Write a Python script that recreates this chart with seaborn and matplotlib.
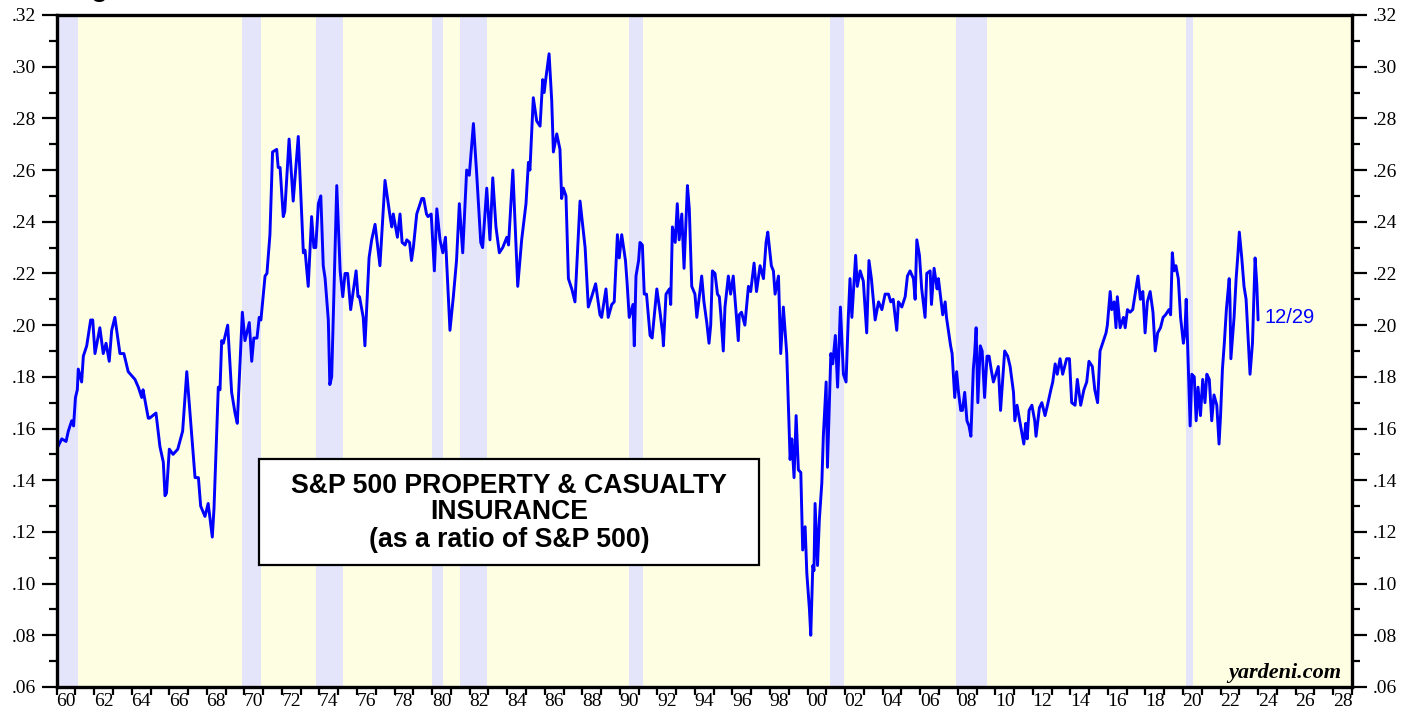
"""
S&P 500 Property & Casualty Insurance as a ratio of the S&P 500.
Values read off the yardeni.com chart by eye.
"""

import pandas as pd
import matplotlib.pyplot as plt
import seaborn as sns
from matplotlib.patches import Rectangle
from matplotlib.ticker import FixedLocator, FuncFormatter

# ---- data (decimal year, ratio) ----
years = [
    1960.00, 1960.27, 1960.50, 1960.62, 1960.80, 1960.90, 1961.00, 1961.10, 1961.15, 1961.33,
    1961.42, 1961.60, 1961.81, 1961.92, 1962.04, 1962.30, 1962.48, 1962.63, 1962.80, 1962.93,
    1963.10, 1963.37, 1963.58, 1963.81, 1964.17, 1964.35, 1964.53, 1964.60, 1964.88, 1964.95,
    1965.29, 1965.50, 1965.68, 1965.77, 1965.85, 1966.00, 1966.20, 1966.45, 1966.71, 1966.93,
    1967.19, 1967.37, 1967.55, 1967.67, 1967.90, 1968.07, 1968.29, 1968.38, 1968.61, 1968.70,
    1968.79, 1968.88, 1969.11, 1969.32, 1969.50, 1969.62, 1969.89, 1970.03, 1970.26, 1970.39,
    1970.50, 1970.67, 1970.79, 1970.88, 1971.10, 1971.20, 1971.36, 1971.50, 1971.72, 1971.80,
    1971.90, 1972.07, 1972.15, 1972.38, 1972.60, 1972.87, 1973.14, 1973.23, 1973.40, 1973.58,
    1973.70, 1973.80, 1973.94, 1974.07, 1974.20, 1974.30, 1974.47, 1974.55, 1974.65, 1974.92,
    1975.10, 1975.24, 1975.36, 1975.50, 1975.66, 1975.95, 1976.05, 1976.13, 1976.33, 1976.42,
    1976.64, 1976.78, 1976.96, 1977.22, 1977.49, 1977.76, 1977.85, 1977.93, 1978.15, 1978.29,
    1978.40, 1978.56, 1978.65, 1978.80, 1978.90, 1979.00, 1979.18, 1979.45, 1979.55, 1979.70,
    1979.78, 1979.95, 1980.12, 1980.25, 1980.42, 1980.57, 1980.71, 1980.95, 1981.13, 1981.30,
    1981.45, 1981.63, 1981.84, 1981.98, 1982.20, 1982.37, 1982.59, 1982.69, 1982.91, 1983.08,
    1983.23, 1983.40, 1983.58, 1983.76, 1983.98, 1984.07, 1984.30, 1984.56, 1984.77, 1985.00,
    1985.13, 1985.21, 1985.39, 1985.57, 1985.75, 1985.89, 1985.97, 1986.05, 1986.23, 1986.37,
    1986.46, 1986.64, 1986.81, 1986.90, 1986.99, 1987.13, 1987.26, 1987.44, 1987.61, 1987.88,
    1988.00, 1988.15, 1988.32, 1988.50, 1988.71, 1988.94, 1989.03, 1989.26, 1989.38, 1989.57,
    1989.70, 1989.87, 1989.97, 1990.10, 1990.30, 1990.38, 1990.50, 1990.70, 1990.77, 1990.86,
    1991.00, 1991.07, 1991.20, 1991.30, 1991.42, 1991.61, 1991.72, 1991.97, 1992.14, 1992.29,
    1992.32, 1992.46, 1992.64, 1992.71, 1992.80, 1992.95, 1993.06, 1993.16, 1993.30, 1993.42,
    1993.60, 1993.70, 1993.83, 1994.00, 1994.10, 1994.25, 1994.36, 1994.48, 1994.63, 1994.75,
    1994.84, 1994.93, 1995.07, 1995.20, 1995.30, 1995.38, 1995.51, 1995.60, 1995.78, 1995.90,
    1996.04, 1996.16, 1996.31, 1996.36, 1996.48, 1996.66, 1996.85, 1996.97, 1997.15, 1997.28,
    1997.47, 1997.65, 1997.79, 1997.88, 1998.07, 1998.18, 1998.27, 1998.45, 1998.57, 1998.71,
    1998.89, 1999.07, 1999.16, 1999.28, 1999.39, 1999.51, 1999.64, 1999.74, 1999.87, 1999.96,
    2000.10, 2000.17, 2000.28, 2000.34, 2000.40, 2000.53, 2000.63, 2000.76, 2000.84, 2000.99,
    2001.06, 2001.24, 2001.34, 2001.48, 2001.60, 2001.75, 2001.91, 2002.05, 2002.17, 2002.26,
    2002.36, 2002.56, 2002.65, 2002.80, 2002.97, 2003.15, 2003.27, 2003.40, 2003.60, 2003.78,
    2003.96, 2004.13, 2004.31, 2004.43, 2004.56, 2004.75, 2004.84, 2005.02, 2005.20, 2005.32,
    2005.46, 2005.64, 2005.73, 2005.82, 2005.96, 2006.08, 2006.26, 2006.35, 2006.53, 2006.60,
    2006.74, 2006.90, 2006.97, 2007.10, 2007.20, 2007.33, 2007.40, 2007.62, 2007.70, 2007.84,
    2007.94, 2008.04, 2008.16, 2008.25, 2008.37, 2008.49, 2008.60, 2008.70, 2008.83, 2008.90,
    2008.98, 2009.07, 2009.20, 2009.30, 2009.43, 2009.56, 2009.67, 2009.80, 2009.90, 2010.16,
    2010.28, 2010.50, 2010.66, 2010.79, 2010.97, 2011.04, 2011.16, 2011.30, 2011.52, 2011.62,
    2011.70, 2011.80, 2011.95, 2012.10, 2012.17, 2012.35, 2012.48, 2012.65, 2012.78, 2012.96,
    2013.06, 2013.19, 2013.30, 2013.45, 2013.59, 2013.80, 2013.95, 2014.07, 2014.25, 2014.37,
    2014.55, 2014.72, 2014.87, 2014.99, 2015.17, 2015.30, 2015.45, 2015.58, 2015.76, 2015.90,
    2015.97, 2016.12, 2016.20, 2016.33, 2016.43, 2016.50, 2016.65, 2016.83, 2016.92, 2017.04,
    2017.18, 2017.32, 2017.45, 2017.60, 2017.73, 2017.86, 2017.98, 2018.10, 2018.25, 2018.40,
    2018.52, 2018.65, 2018.80, 2018.94, 2019.07, 2019.25, 2019.34, 2019.43, 2019.52, 2019.62,
    2019.75, 2019.87, 2020.02, 2020.10, 2020.17, 2020.38, 2020.47, 2020.60, 2020.70, 2020.80,
    2020.93, 2021.05, 2021.17, 2021.27, 2021.40, 2021.53, 2021.65, 2021.80, 2021.92, 2022.00,
    2022.10, 2022.20, 2022.31, 2022.46, 2022.50, 2022.55, 2022.72, 2022.83, 2022.92, 2023.00,
    2023.13, 2023.25, 2023.36, 2023.48, 2023.57, 2023.70, 2023.84, 2023.93, 2024.00,
]
ratio = [
    .152, .156, .155, .159, .163, .161, .172, .175, .183, .178,
    .188, .192, .202, .202, .189, .199, .189, .193, .186, .198,
    .203, .189, .189, .182, .179, .176, .172, .175, .164, .164,
    .166, .153, .147, .134, .135, .152, .150, .152, .159, .182,
    .158, .141, .141, .130, .126, .131, .118, .129, .176, .175,
    .194, .193, .200, .174, .166, .162, .205, .194, .201, .186,
    .195, .195, .203, .202, .219, .220, .235, .267, .268, .261,
    .261, .242, .244, .272, .248, .273, .228, .229, .215, .242,
    .230, .230, .247, .250, .223, .218, .202, .177, .180, .254,
    .221, .211, .220, .220, .206, .221, .211, .211, .203, .192,
    .226, .233, .239, .223, .256, .242, .238, .243, .234, .243,
    .232, .231, .233, .232, .225, .230, .243, .249, .249, .243,
    .242, .243, .221, .245, .233, .228, .234, .198, .211, .225,
    .247, .228, .260, .258, .278, .259, .232, .230, .253, .233,
    .257, .238, .228, .230, .234, .231, .260, .215, .233, .247,
    .263, .260, .288, .279, .277, .295, .290, .295, .305, .287,
    .267, .274, .268, .249, .253, .250, .218, .214, .209, .248,
    .240, .230, .207, .211, .216, .204, .203, .214, .203, .208,
    .209, .235, .226, .235, .225, .217, .203, .208, .192, .219,
    .225, .232, .231, .212, .212, .196, .195, .214, .205, .196,
    .192, .212, .214, .208, .238, .232, .247, .233, .243, .222,
    .254, .245, .215, .212, .203, .212, .219, .209, .201, .193,
    .200, .221, .220, .212, .211, .204, .190, .207, .219, .212,
    .219, .208, .194, .204, .205, .200, .215, .213, .224, .213,
    .223, .218, .232, .236, .223, .221, .212, .219, .189, .207,
    .189, .148, .156, .141, .165, .144, .143, .113, .122, .104,
    .090, .080, .107, .105, .131, .107, .125, .139, .157, .178,
    .145, .189, .185, .196, .176, .207, .181, .178, .203, .218,
    .203, .227, .215, .221, .217, .197, .225, .218, .202, .209,
    .206, .212, .212, .209, .210, .198, .209, .207, .211, .219,
    .221, .218, .210, .233, .227, .214, .203, .220, .221, .208,
    .222, .214, .218, .210, .204, .209, .203, .192, .189, .172,
    .182, .174, .167, .167, .174, .163, .161, .157, .183, .189,
    .199, .170, .192, .190, .172, .188, .188, .182, .178, .184,
    .167, .190, .188, .184, .174, .163, .169, .163, .154, .162,
    .156, .167, .169, .163, .157, .168, .170, .165, .169, .175,
    .178, .185, .181, .187, .181, .187, .187, .170, .169, .179,
    .169, .175, .178, .186, .184, .175, .170, .190, .194, .197,
    .200, .213, .206, .209, .199, .211, .199, .203, .199, .206,
    .205, .206, .212, .219, .210, .213, .197, .209, .213, .205,
    .190, .197, .199, .203, .204, .206, .204, .228, .221, .223,
    .218, .203, .193, .197, .210, .161, .181, .180, .163, .176,
    .165, .179, .170, .181, .179, .163, .173, .169, .154, .165,
    .183, .193, .206, .218, .210, .187, .203, .218, .227, .236,
    .226, .215, .210, .193, .181, .193, .226, .216, .202,
]

# NBER recessions (shaded)
rec_start = [1960.15, 1969.88, 1973.83, 1980.00, 1981.50, 1990.50, 2001.17, 2007.92, 2020.17]
rec_end = [1961.12, 1970.88, 1975.25, 1980.57, 1982.92, 1991.22, 2001.95, 2009.58, 2020.52]

title_lines = ["S&P 500 PROPERTY & CASUALTY", "INSURANCE", "(as a ratio of S&P 500)"]
last_label = "12/29"

df = pd.DataFrame({"year": years, "ratio": ratio})

sns.set_style("ticks")
plt.rcParams["font.family"] = ["Liberation Serif", "DejaVu Serif"]
plt.rcParams["text.color"] = "black"
plt.rcParams["xtick.color"] = "black"
plt.rcParams["ytick.color"] = "black"

fig = plt.figure(figsize=(14.17, 7.21), dpi=100)
ax = fig.add_axes([0.0400, 0.0472, 0.9141, 0.9320])
ax.set_facecolor("#FEFEE3")

for s, e in zip(rec_start, rec_end):
    ax.axvspan(s, e, color="#E4E4FA", lw=0, zorder=0)

sns.lineplot(data=df, x="year", y="ratio", ax=ax, color="#0000FF", lw=2.1, zorder=3)

ax.set_xlim(1960, 2029)
ax.set_ylim(0.06, 0.32)
ax.set_xlabel("")
ax.set_ylabel("")

# y axis on both sides
yt = [0.06 + 0.02 * i for i in range(14)]
ax.yaxis.set_major_locator(FixedLocator(yt))
ax.yaxis.set_minor_locator(FixedLocator([0.07 + 0.02 * i for i in range(13)]))
ax.yaxis.set_major_formatter(FuncFormatter(lambda v, p: f"{v:.2f}"[1:]))
ax.tick_params(axis="y", which="major", length=11, width=1.6, direction="out",
               left=True, right=True, labelleft=True, labelright=True,
               labelsize=14, pad=4, colors="black")
ax.tick_params(axis="y", which="minor", length=5.5, width=1.6, direction="out",
               left=True, right=True, colors="black")

# x: tick marks at each year, labels centred mid-year on even years
ax.xaxis.set_major_locator(FixedLocator(list(range(1960, 2030))))
ax.xaxis.set_major_formatter(FuncFormatter(lambda v, p: ""))
ax.xaxis.set_minor_locator(FixedLocator([y + 0.5 for y in range(1960, 2029, 2)]))
ax.xaxis.set_minor_formatter(FuncFormatter(lambda v, p: f"{int(v) % 100:02d}"))
ax.tick_params(axis="x", which="major", length=6, width=1.6, direction="out", colors="black")
ax.tick_params(axis="x", which="minor", length=0, labelsize=14, pad=4, colors="black")

for sp in ax.spines.values():
    sp.set_linewidth(2.4)
    sp.set_color("black")
    sp.set_zorder(5)

# label box
ax.add_patch(Rectangle((1970.78, 0.1072), 26.64, 0.0410, facecolor="white",
                       edgecolor="black", lw=1.6, zorder=4))
for txt, yy in zip(title_lines, [0.1378, 0.1277, 0.1169]):
    ax.text(1984.1, yy, txt, ha="center", va="center", fontsize=19.2,
            fontweight="bold", family=["Liberation Sans", "DejaVu Sans"],
            color="black", zorder=5)

ax.text(2024.35, 0.2028, last_label, color="#0000FF", fontsize=14.5, va="center",
        ha="left", family=["Liberation Sans", "DejaVu Sans"], zorder=5)
ax.text(2028.45, 0.0635, "yardeni.com", ha="right", va="baseline", fontsize=16,
        fontweight="bold", fontstyle="italic", color="black", zorder=5)

# title sits mostly above the canvas in the original; only its descender shows
fig.text(68 / 1417, 1 + 3 / 721, "Figure", fontsize=19, fontweight="bold",
         family=["Liberation Sans", "DejaVu Sans"], va="baseline", color="black")

plt.savefig("out.png", dpi=100)
